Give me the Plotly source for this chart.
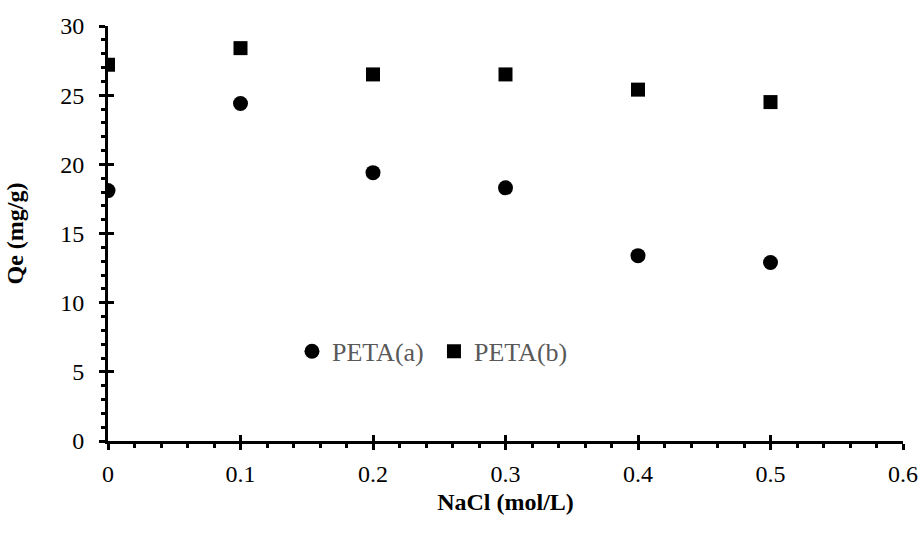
import plotly.graph_objects as go

# NaCl concentration (mol/L) and equilibrium adsorption capacity Qe (mg/g)
nacl = [0, 0.1, 0.2, 0.3, 0.4, 0.5]
qe_peta_a = [18.1, 24.4, 19.4, 18.3, 13.4, 12.9]
qe_peta_b = [27.2, 28.4, 26.5, 26.5, 25.4, 24.5]

x_ticks = [0, 0.1, 0.2, 0.3, 0.4, 0.5, 0.6]
x_labels = ["0", "0.1", "0.2", "0.3", "0.4", "0.5", "0.6"]
y_ticks = [0, 5, 10, 15, 20, 25, 30]

FONT = "Times New Roman"

fig = go.Figure()
fig.add_trace(go.Scatter(
    x=nacl, y=qe_peta_a, mode="markers", name="PETA(a)",
    marker=dict(symbol="circle", size=15, color="black"),
))
fig.add_trace(go.Scatter(
    x=nacl, y=qe_peta_b, mode="markers", name="PETA(b)",
    marker=dict(symbol="square", size=14, color="black"),
))
# empty helper trace so the overlay axes (inner half of the cross ticks) get drawn
fig.add_trace(go.Scatter(x=[], y=[], xaxis="x2", yaxis="y2",
                         showlegend=False, hoverinfo="skip"))

axis_common = dict(
    showgrid=False, zeroline=False, automargin=False,
    tickfont=dict(family=FONT, size=24, color="black"),
)

fig.update_layout(
    template="none",
    width=922, height=541,
    margin=dict(l=108, r=19, t=26, b=100),
    paper_bgcolor="white", plot_bgcolor="white",
    font=dict(family=FONT, size=24, color="black"),
    xaxis=dict(
        **axis_common,
        range=[0, 0.6], tickvals=x_ticks, ticktext=x_labels,
        showline=True, linecolor="black", linewidth=3,
        ticks="outside", ticklen=6, tickwidth=3, tickcolor="black",
        ticklabelstandoff=3,
        minor=dict(dtick=0.02, ticks="outside", ticklen=4, tickwidth=3,
                   tickcolor="black"),
        title=dict(text="<b>NaCl (mol/L)</b>", font=dict(family=FONT, size=24),
                   standoff=8),
    ),
    yaxis=dict(
        **axis_common,
        range=[0, 30], tickvals=y_ticks,
        showline=True, linecolor="black", linewidth=3,
        ticks="outside", ticklen=6, tickwidth=3, tickcolor="black",
        ticklabelstandoff=10,
        minor=dict(dtick=1, ticks="outside", ticklen=4, tickwidth=3,
                   tickcolor="black"),
        title=dict(text="<b>Qe (mg/g)</b>", font=dict(family=FONT, size=24),
                   standoff=30),
    ),
    xaxis2=dict(
        range=[0, 0.6], tickvals=x_ticks, overlaying="x", anchor="y",
        showgrid=False, zeroline=False, showline=False, showticklabels=False,
        ticks="inside", ticklen=6, tickwidth=3, tickcolor="black",
        automargin=False,
    ),
    yaxis2=dict(
        range=[0, 30], tickvals=y_ticks, overlaying="y", anchor="x",
        showgrid=False, zeroline=False, showline=False, showticklabels=False,
        ticks="inside", ticklen=6, tickwidth=3, tickcolor="black",
        automargin=False,
    ),
    legend=dict(
        orientation="h", x=0.2314, y=0.216, xanchor="left", yanchor="middle",
        bgcolor="rgba(0,0,0,0)",
        font=dict(family=FONT, size=26, color="#595959"),
        itemwidth=30, entrywidth=97, entrywidthmode="pixels",
    ),
    showlegend=True,
)

fig.write_html("out.html")
